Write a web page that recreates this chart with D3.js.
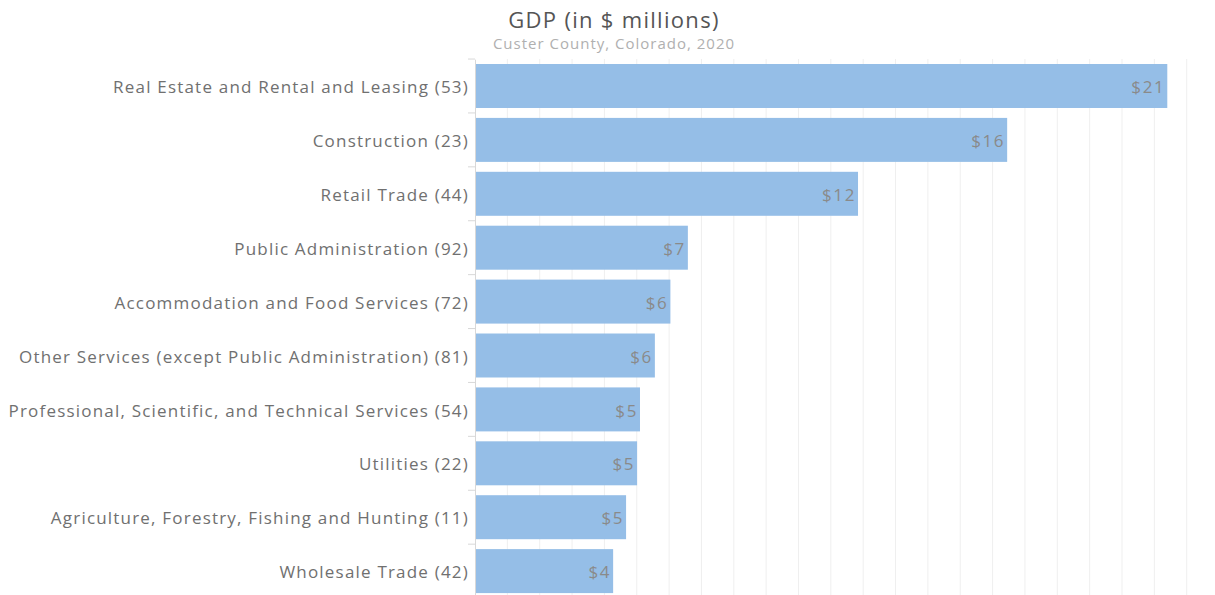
<!DOCTYPE html>
<html>
<head>
<meta charset="utf-8">
<script src="https://cdn.jsdelivr.net/npm/d3@7"></script>
<style>
  html, body { margin: 0; padding: 0; background: #fff; }
  svg { display: block; }
</style>
</head>
<body>
<svg id="chart" width="1215" height="595"></svg>
<script>
// Industry categories (NAICS code in parentheses), largest first
const categories = [
  "Real Estate and Rental and Leasing (53)",
  "Construction (23)",
  "Retail Trade (44)",
  "Public Administration (92)",
  "Accommodation and Food Services (72)",
  "Other Services (except Public Administration) (81)",
  "Professional, Scientific, and Technical Services (54)",
  "Utilities (22)",
  "Agriculture, Forestry, Fishing and Hunting (11)",
  "Wholesale Trade (42)"
];
// GDP in $ millions
const gdpValues = [21.4, 16.45, 11.84, 6.58, 6.04, 5.56, 5.1, 5.01, 4.67, 4.27];

const title = "GDP (in $ millions)";
const subtitle = "Custer County, Colorado, 2020";

const svg = d3.select("#chart");
const width = 1215, height = 595;
const margin = { top: 59, right: 20, bottom: 0, left: 475 };
const fontFamily = "'Open Sans', 'DejaVu Sans', sans-serif";

const x = d3.scaleLinear()
  .domain([0, 22.5])
  .range([margin.left, margin.left + 22.5 * 32.35]);

const y = d3.scaleBand()
  .domain(categories)
  .range([59.15, 597.95])
  .paddingInner(0.184)
  .paddingOuter(0.09);

// vertical gridlines, one per $1M
svg.append("g")
  .selectAll("line")
  .data(d3.range(1, 23))
  .join("line")
  .attr("x1", d => x(d)).attr("x2", d => x(d))
  .attr("y1", margin.top).attr("y2", height)
  .attr("stroke", "#efefef")
  .attr("stroke-width", 1);

// bars
const rows = categories.map((c, i) => ({ category: c, value: gdpValues[i] }));
svg.append("g")
  .selectAll("rect")
  .data(rows)
  .join("rect")
  .attr("x", x(0))
  .attr("y", d => y(d.category))
  .attr("width", d => x(d.value) - x(0))
  .attr("height", y.bandwidth())
  .attr("fill", "#95bee7");

// value labels inside bar ends
svg.append("g")
  .selectAll("text")
  .data(rows)
  .join("text")
  .attr("x", d => x(d.value) - 2)
  .attr("y", d => y(d.category) + y.bandwidth() / 2)
  .attr("dy", "0.42em")
  .attr("text-anchor", "end")
  .attr("font-family", fontFamily)
  .attr("font-size", 17)
  .attr("letter-spacing", "1.6px")
  .attr("fill", "#8a8a8a")
  .text(d => "$" + d3.format(".0f")(d.value));

// category axis
const yAxis = d3.axisLeft(y).tickSize(0).tickPadding(6);
const gy = svg.append("g")
  .attr("transform", `translate(${margin.left},0)`)
  .call(yAxis);
gy.select(".domain").attr("stroke", "#d8d8d8");
gy.selectAll("text")
  .attr("dy", "0.42em")
  .attr("font-family", fontFamily)
  .attr("font-size", 17)
  .attr("letter-spacing", "1.2px")
  .attr("fill", "#707070");

// small separator ticks between rows
const step = y.step();
svg.append("g")
  .selectAll("line")
  .data(d3.range(categories.length + 1))
  .join("line")
  .attr("x1", margin.left - 7).attr("x2", margin.left)
  .attr("y1", i => y(categories[0]) - y.paddingInner() * step / 2 + i * step)
  .attr("y2", i => y(categories[0]) - y.paddingInner() * step / 2 + i * step)
  .attr("stroke", "#d8d8d8");

// titles
svg.append("text")
  .attr("x", 614).attr("y", 28)
  .attr("text-anchor", "middle")
  .attr("font-family", fontFamily)
  .attr("font-size", 22)
  .attr("letter-spacing", "1.3px")
  .attr("fill", "#555")
  .text(title);
svg.append("text")
  .attr("x", 614).attr("y", 49)
  .attr("text-anchor", "middle")
  .attr("font-family", fontFamily)
  .attr("font-size", 15)
  .attr("letter-spacing", "1.0px")
  .attr("fill", "#b0b0b0")
  .text(subtitle);
</script>
</body>
</html>
